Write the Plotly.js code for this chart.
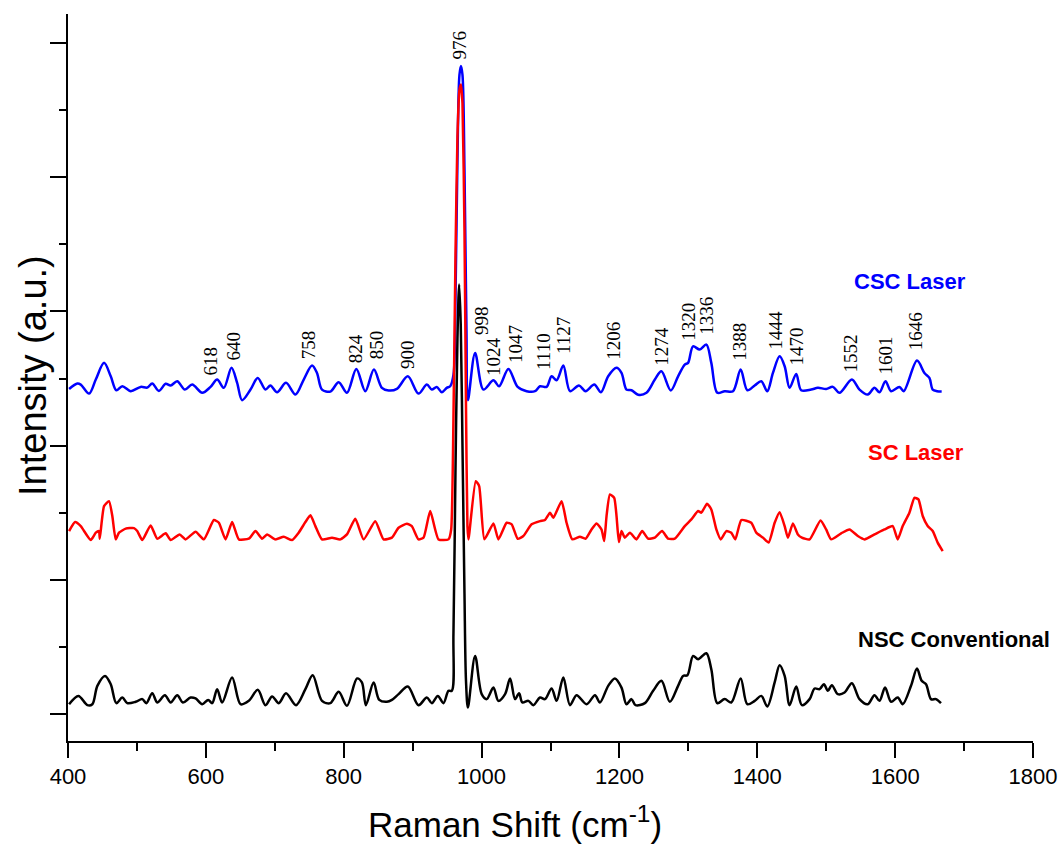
<!DOCTYPE html>
<html>
<head>
<meta charset="utf-8">
<script src="https://cdn.plot.ly/plotly-3.0.1.min.js"></script>
<style>html,body{margin:0;padding:0;background:#fff;}#chart{width:1058px;height:848px;}</style>
</head>
<body>
<div id="chart"></div>
<script>
// CSC Laser (blue)
var cscX = [401.6,413.6,418.5,430.6,440.3,452.3,462.0,470.1,478.8,491.0,505.4,515.0,522.2,531.9,541.6,548.9,558.4,569.6,580.2,594.7,606.8,616.4,626.1,637.2,645.4,652.6,664.8,675.3,686.5,693.7,703.3,716.3,730.0,742.0,754.0,761.2,768.5,780.6,792.7,804.7,818.3,831.3,843.8,855.4,865.1,877.1,893.0,908.5,920.6,927.8,935.0,942.3,949.5,954.5,959.3,962.1,965.0,967.9,970.1,972.3,975.2,978.1,980.2,990.6,1002.7,1017.2,1025.4,1038.9,1052.4,1065.4,1077.5,1084.8,1094.4,1101.6,1108.9,1118.6,1128.3,1141.3,1150.9,1163.5,1173.2,1183.7,1195.8,1203.0,1210.2,1217.5,1227.2,1239.2,1251.4,1260.9,1274.5,1285.1,1294.8,1299.6,1306.8,1316.5,1326.1,1333.3,1342.0,1352.7,1364.8,1375.9,1385.5,1396.2,1405.8,1414.5,1422.7,1432.4,1439.7,1446.9,1456.5,1463.7,1478.2,1487.9,1500.0,1509.7,1519.3,1537.2,1548.3,1560.3,1570.0,1577.3,1586.0,1594.1,1606.2,1612.5,1631.7,1642.5,1649.7,1654.5,1660.7,1667.5];
var cscY = [2.423,2.463,2.455,2.388,2.493,2.617,2.517,2.413,2.443,2.406,2.438,2.433,2.463,2.408,2.461,2.448,2.480,2.418,2.455,2.394,2.438,2.493,2.431,2.580,2.468,2.339,2.418,2.505,2.418,2.448,2.398,2.468,2.381,2.493,2.597,2.542,2.418,2.403,2.473,2.394,2.572,2.406,2.567,2.431,2.411,2.423,2.517,2.388,2.455,2.418,2.438,2.398,2.431,2.443,2.530,3.088,4.129,4.762,4.829,4.762,4.055,2.865,2.339,2.691,2.418,2.487,2.443,2.572,2.438,2.406,2.406,2.443,2.438,2.517,2.487,2.597,2.406,2.448,2.406,2.455,2.398,2.517,2.580,2.542,2.418,2.413,2.379,2.394,2.493,2.554,2.411,2.517,2.604,2.617,2.740,2.716,2.753,2.617,2.394,2.406,2.406,2.567,2.413,2.448,2.480,2.406,2.542,2.666,2.592,2.431,2.535,2.413,2.418,2.431,2.423,2.438,2.394,2.493,2.418,2.381,2.431,2.398,2.480,2.406,2.438,2.406,2.634,2.542,2.505,2.418,2.406,2.403];

// SC Laser (red)
var scX = [401.6,410.3,418.5,433.0,440.3,445.0,446.1,452.3,459.5,464.3,469.2,474.0,483.7,495.7,500.5,507.8,519.9,529.5,541.7,548.9,561.9,570.6,585.1,597.1,611.6,618.9,628.6,638.1,647.8,662.3,672.0,681.6,688.8,701.0,713.0,725.0,734.7,744.4,751.7,758.9,768.5,783.0,795.1,804.7,816.8,828.9,845.8,857.8,869.9,879.6,891.6,898.8,908.5,915.8,925.5,937.5,952.0,955.9,959.2,962.1,965.0,967.9,970.1,972.3,975.2,977.4,979.5,981.0,991.5,996.5,1004.1,1017.2,1024.4,1036.4,1043.7,1052.4,1060.6,1072.6,1084.8,1092.0,1099.3,1104.1,1116.1,1123.3,1131.6,1142.7,1150.9,1159.5,1166.8,1174.0,1177.9,1181.3,1186.2,1192.4,1195.8,1199.2,1203.0,1207.9,1215.2,1224.7,1233.0,1241.7,1251.4,1261.9,1270.6,1280.3,1294.8,1304.4,1314.1,1318.9,1327.1,1333.3,1340.6,1347.0,1355.1,1362.3,1368.1,1376.8,1391.3,1398.5,1408.2,1416.5,1425.2,1432.4,1439.7,1444.4,1451.7,1458.9,1464.7,1475.9,1491.8,1499.9,1507.2,1521.7,1533.8,1545.9,1555.5,1570.0,1584.5,1596.5,1603.8,1611.0,1620.7,1628.0,1633.8,1640.0,1647.2,1654.5,1661.7,1669.0];
var scY = [1.364,1.431,1.401,1.297,1.352,1.364,1.307,1.550,1.587,1.476,1.302,1.352,1.382,1.386,1.364,1.297,1.406,1.307,1.347,1.297,1.339,1.302,1.359,1.302,1.446,1.426,1.302,1.431,1.302,1.307,1.364,1.307,1.339,1.302,1.322,1.297,1.352,1.431,1.481,1.401,1.302,1.315,1.302,1.339,1.456,1.302,1.438,1.302,1.315,1.389,1.419,1.401,1.302,1.315,1.513,1.302,1.302,1.376,2.200,3.400,4.300,4.650,4.690,4.550,3.600,2.300,1.400,1.302,1.736,1.699,1.302,1.421,1.302,1.426,1.414,1.307,1.327,1.414,1.438,1.446,1.501,1.463,1.587,1.426,1.302,1.322,1.307,1.376,1.421,1.376,1.290,1.476,1.637,1.612,1.476,1.282,1.364,1.315,1.352,1.302,1.364,1.307,1.315,1.364,1.307,1.307,1.401,1.451,1.513,1.501,1.568,1.525,1.376,1.302,1.364,1.352,1.302,1.446,1.426,1.352,1.315,1.278,1.426,1.505,1.401,1.315,1.421,1.339,1.315,1.302,1.443,1.376,1.302,1.347,1.376,1.327,1.302,1.339,1.376,1.401,1.302,1.401,1.501,1.612,1.600,1.476,1.401,1.364,1.278,1.215];

// NSC Conventional (black)
var nscX = [401.6,415.1,428.1,435.3,442.6,453.7,462.0,470.1,478.8,486.0,498.2,507.8,513.6,522.2,529.5,540.6,548.9,558.5,566.7,577.9,585.1,594.7,603.4,609.2,616.4,623.6,638.1,650.3,662.3,675.3,686.5,696.1,705.8,716.3,730.8,744.4,755.0,768.5,780.6,792.7,804.7,819.2,826.4,832.2,843.4,851.6,862.6,869.9,879.6,893.0,908.5,920.6,927.8,936.5,944.7,952.0,956.8,959.2,962.1,965.0,967.5,969.8,972.3,975.2,977.4,980.2,990.6,1000.2,1007.5,1017.2,1024.4,1034.1,1041.4,1048.6,1054.4,1059.2,1067.9,1075.1,1084.8,1092.0,1101.6,1108.9,1118.6,1128.3,1137.8,1152.3,1164.5,1171.7,1183.7,1193.4,1203.0,1210.2,1217.5,1223.3,1236.9,1248.9,1260.9,1273.1,1285.1,1292.4,1298.6,1306.9,1314.1,1326.1,1333.3,1342.0,1352.7,1362.3,1375.9,1385.5,1396.2,1405.8,1414.5,1425.2,1432.4,1439.7,1446.9,1456.5,1464.7,1475.9,1483.1,1490.4,1496.6,1502.4,1508.2,1516.9,1526.6,1537.2,1548.3,1560.3,1570.0,1577.3,1585.4,1594.1,1603.8,1611.0,1623.0,1631.7,1638.5,1644.8,1652.0,1659.3,1666.5];
var nscY = [0.074,0.136,0.067,0.074,0.211,0.285,0.223,0.082,0.124,0.082,0.092,0.112,0.082,0.156,0.087,0.141,0.087,0.141,0.087,0.124,0.117,0.074,0.106,0.082,0.186,0.087,0.273,0.074,0.099,0.181,0.067,0.132,0.082,0.156,0.067,0.186,0.290,0.099,0.082,0.166,0.062,0.266,0.236,0.067,0.236,0.106,0.092,0.106,0.149,0.206,0.067,0.124,0.082,0.136,0.082,0.174,0.174,0.600,1.800,2.800,3.200,2.900,2.000,0.900,0.250,0.050,0.434,0.149,0.112,0.198,0.099,0.149,0.266,0.112,0.156,0.087,0.099,0.067,0.124,0.112,0.191,0.099,0.273,0.067,0.141,0.074,0.141,0.087,0.211,0.266,0.198,0.074,0.112,0.067,0.082,0.174,0.248,0.092,0.211,0.285,0.290,0.434,0.409,0.454,0.335,0.082,0.112,0.087,0.266,0.074,0.099,0.136,0.057,0.236,0.365,0.285,0.067,0.206,0.067,0.112,0.191,0.186,0.223,0.174,0.216,0.149,0.161,0.231,0.112,0.074,0.141,0.099,0.198,0.092,0.124,0.074,0.211,0.340,0.248,0.223,0.112,0.112,0.082];

// Peak labels
var peakText = ["618","640","758","824","850","900","976","998","1024","1047","1110","1127","1206","1274","1320","1336","1388","1444","1470","1552","1601","1646"];
var peakX = [607.3,640.6,749.2,817.3,847.7,892.6,967.9,999.8,1017.2,1049.0,1089.6,1118.6,1191.0,1260.6,1301.1,1327.2,1375.0,1427.1,1457.5,1535.8,1586.5,1629.9];
var peakY = [2.634,2.746,2.753,2.723,2.753,2.679,4.985,2.932,2.664,2.760,2.701,2.820,2.783,2.738,2.924,2.969,2.775,2.865,2.738,2.686,2.671,2.850];

// Series labels
var seriesNames = ["CSC Laser","SC Laser","NSC Conventional"];
var seriesColors = ["#0000ff","#ff0000","#000000"];
var seriesLabelX = [1621.2,1629.9,1684.9];
var seriesLabelY = [3.222,1.949,0.558];

// Axis titles
var xTitle = 'Raman Shift (cm<sup>-1</sup>)';
var yTitle = 'Intensity (a.u.)';

var ML = 68, MR = 25, MT = 14, MB = 107, W = 1058, H = 848;
var PW = W - ML - MR, PH = H - MT - MB;

var traces = [
  {x: cscX, y: cscY, name: seriesNames[0], mode: 'lines', line: {color: seriesColors[0], width: 2.5, shape: 'spline', smoothing: 0.9}},
  {x: scX, y: scY, name: seriesNames[1], mode: 'lines', line: {color: seriesColors[1], width: 2.5, shape: 'spline', smoothing: 0.5}},
  {x: nscX, y: nscY, name: seriesNames[2], mode: 'lines', line: {color: seriesColors[2], width: 2.5, shape: 'spline', smoothing: 0.9}}
];

var annotations = [];
for (var i = 0; i < peakText.length; i++) {
  annotations.push({
    x: peakX[i], y: peakY[i], xref: 'x', yref: 'y', text: peakText[i],
    showarrow: false, textangle: -90, xanchor: 'center', yanchor: 'middle',
    font: {family: 'Liberation Serif, Times New Roman, serif', size: 19, color: '#000'}
  });
}
for (var j = 0; j < seriesNames.length; j++) {
  annotations.push({
    x: seriesLabelX[j], y: seriesLabelY[j], xref: 'x', yref: 'y',
    text: '<b>' + seriesNames[j] + '</b>', showarrow: false,
    xanchor: 'center', yanchor: 'middle',
    font: {family: 'Liberation Sans, Arial, sans-serif', size: 22, color: seriesColors[j]}
  });
}
// x-axis title (centred where the reference has it)
annotations.push({
  x: (515 - ML) / PW, y: -(822 - (H - MB)) / PH, xref: 'paper', yref: 'paper',
  text: xTitle, showarrow: false, xanchor: 'center', yanchor: 'middle',
  font: {family: 'Liberation Sans, Arial, sans-serif', size: 35, color: '#000'}
});
// y-axis title
annotations.push({
  x: (33 - ML) / PW, y: ((H - MB) - 376) / PH, xref: 'paper', yref: 'paper',
  text: yTitle, showarrow: false, textangle: -90, xanchor: 'center', yanchor: 'middle',
  font: {family: 'Liberation Sans, Arial, sans-serif', size: 38, color: '#000'}
});

var layout = {
  width: W, height: H,
  margin: {l: ML, r: MR, t: MT, b: MB},
  paper_bgcolor: '#fff', plot_bgcolor: '#fff',
  showlegend: false,
  font: {family: 'Liberation Sans, Arial, sans-serif', color: '#000'},
  xaxis: {
    range: [400, 1800], tick0: 400, dtick: 200, ticks: 'outside', ticklen: 15, tickwidth: 2, tickcolor: '#000',
    showline: true, linewidth: 2, linecolor: '#000', showgrid: false, zeroline: false,
    tickfont: {size: 22, color: '#000'}, ticklabeloverflow: 'allow',
    minor: {dtick: 100, ticks: 'outside', ticklen: 8, tickwidth: 2, tickcolor: '#000', showgrid: false}
  },
  yaxis: {
    range: [-0.2, 5.216], tick0: 0, dtick: 1, ticks: 'outside', ticklen: 16, tickwidth: 2, tickcolor: '#000',
    showline: true, linewidth: 2, linecolor: '#000', showgrid: false, zeroline: false, showticklabels: false,
    minor: {dtick: 0.5, ticks: 'outside', ticklen: 7, tickwidth: 2, tickcolor: '#000', showgrid: false}
  },
  annotations: annotations
};

Plotly.newPlot('chart', traces, layout, {displayModeBar: false, staticPlot: true});
</script>
</body>
</html>
